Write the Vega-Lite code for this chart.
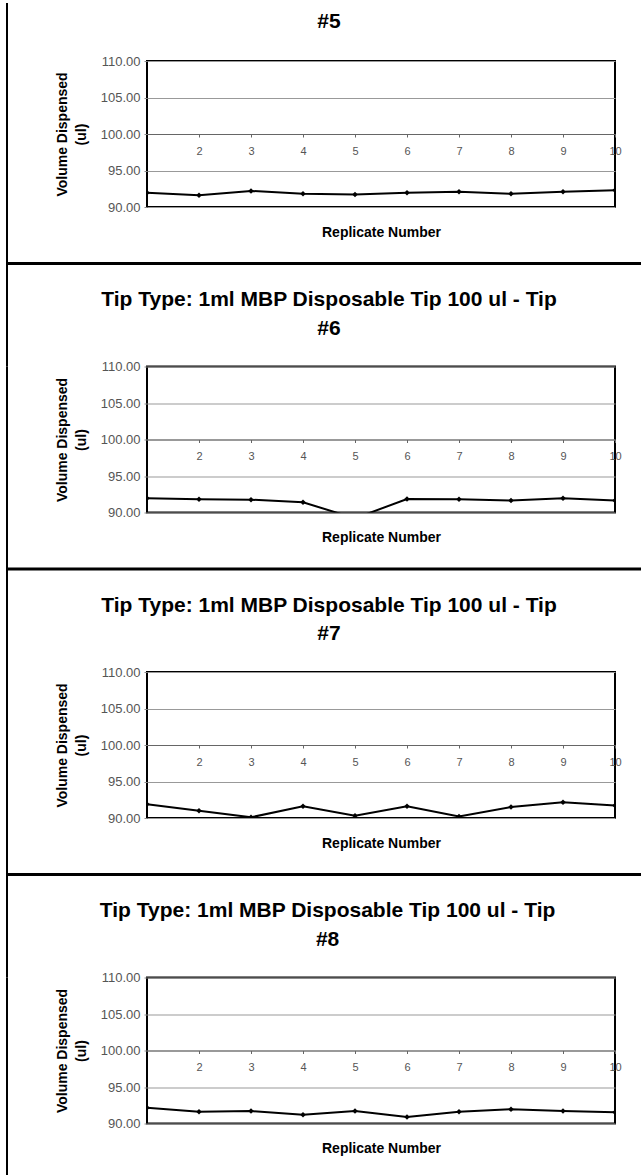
{
  "$schema": "https://vega.github.io/schema/vega-lite/v6.json",
  "background": "white",
  "padding": {"left": 4, "top": 0, "right": 0, "bottom": 0},
  "bounds": "flush",
  "spacing": 159.5,
  "datasets": {
    "tips": [
      {"tip": 5, "rep": 1, "vol": 91.95}, {"tip": 5, "rep": 2, "vol": 91.6}, {"tip": 5, "rep": 3, "vol": 92.2}, {"tip": 5, "rep": 4, "vol": 91.8}, {"tip": 5, "rep": 5, "vol": 91.7},
      {"tip": 5, "rep": 6, "vol": 91.95}, {"tip": 5, "rep": 7, "vol": 92.1}, {"tip": 5, "rep": 8, "vol": 91.8}, {"tip": 5, "rep": 9, "vol": 92.1}, {"tip": 5, "rep": 10, "vol": 92.3},
      {"tip": 6, "rep": 1, "vol": 91.95}, {"tip": 6, "rep": 2, "vol": 91.8}, {"tip": 6, "rep": 3, "vol": 91.75}, {"tip": 6, "rep": 4, "vol": 91.4}, {"tip": 6, "rep": 5, "vol": 89.2},
      {"tip": 6, "rep": 6, "vol": 91.85}, {"tip": 6, "rep": 7, "vol": 91.8}, {"tip": 6, "rep": 8, "vol": 91.65}, {"tip": 6, "rep": 9, "vol": 91.95}, {"tip": 6, "rep": 10, "vol": 91.65},
      {"tip": 7, "rep": 1, "vol": 91.9}, {"tip": 7, "rep": 2, "vol": 91.0}, {"tip": 7, "rep": 3, "vol": 90.1}, {"tip": 7, "rep": 4, "vol": 91.6}, {"tip": 7, "rep": 5, "vol": 90.3},
      {"tip": 7, "rep": 6, "vol": 91.6}, {"tip": 7, "rep": 7, "vol": 90.2}, {"tip": 7, "rep": 8, "vol": 91.5}, {"tip": 7, "rep": 9, "vol": 92.15}, {"tip": 7, "rep": 10, "vol": 91.7},
      {"tip": 8, "rep": 1, "vol": 92.15}, {"tip": 8, "rep": 2, "vol": 91.6}, {"tip": 8, "rep": 3, "vol": 91.7}, {"tip": 8, "rep": 4, "vol": 91.2}, {"tip": 8, "rep": 5, "vol": 91.7},
      {"tip": 8, "rep": 6, "vol": 90.9}, {"tip": 8, "rep": 7, "vol": 91.6}, {"tip": 8, "rep": 8, "vol": 91.95}, {"tip": 8, "rep": 9, "vol": 91.7}, {"tip": 8, "rep": 10, "vol": 91.55}
    ]
  },
  "config": {
    "font": "Liberation Sans",
    "view": {"stroke": "black", "strokeWidth": 2},
    "title": {"fontSize": 21, "fontWeight": "bold", "color": "black", "lineHeight": 28.5, "anchor": "middle", "frame": "bounds", "offset": 22},
    "axisX": {"format": "d", "tickCount": 20, "offset": -73, "domain": true, "domainColor": "#666", "domainWidth": 1, "ticks": true, "tickSize": 3, "tickColor": "#666", "labelFontSize": 11, "labelColor": "#555", "labelPadding": 8, "labelFlush": false, "grid": false, "titleFontSize": 14, "titleFontWeight": "bold", "titleColor": "black", "titlePadding": 69},
    "axisY": {"format": ".2f", "tickCount": 10, "grid": true, "gridColor": "#999", "gridWidth": 1, "domain": false, "ticks": true, "tickSize": 3, "tickColor": "#888", "labelFontSize": 13, "labelColor": "#555", "labelPadding": 4, "labelOverlap": false, "titleFontSize": 14, "titleFontWeight": "bold", "titleColor": "black", "titleLineHeight": 19, "titlePadding": 12}
  },
  "vconcat": [
    {
      "width": 468, "height": 146,
      "title": {"text": "#5", "offset": -30.5},
      "layer": [
        {"data": {"name": "tips"}, "transform": [{"filter": "datum.tip == 5"}],
         "mark": {"type": "line", "color": "black", "strokeWidth": 2, "clip": true},
         "encoding": {
           "x": {"field": "rep", "type": "quantitative", "scale": {"domain": [1, 10], "nice": false, "zero": false}, "axis": {"title": "Replicate Number", "values": [2, 3, 4, 5, 6, 7, 8, 9, 10]}},
           "y": {"field": "vol", "type": "quantitative", "scale": {"domain": [90, 110], "nice": false, "zero": false}, "axis": {"title": ["Volume Dispensed", "(ul)"], "values": [90, 95, 100, 105, 110]}}
         }},
        {"data": {"name": "tips"}, "transform": [{"filter": "datum.tip == 5"}],
         "mark": {"type": "point", "shape": "diamond", "size": 30, "filled": true, "color": "black", "opacity": 1, "clip": true},
         "encoding": {"x": {"field": "rep", "type": "quantitative"}, "y": {"field": "vol", "type": "quantitative"}}},
        {"data": {"values": [{}]},
         "mark": {"type": "rule", "color": "black", "strokeWidth": 2, "clip": false},
         "encoding": {"x": {"datum": -1.6923, "type": "quantitative"}, "y": {"datum": 117.95, "type": "quantitative"}, "y2": {"datum": 68.15}}},
        {"data": {"values": [{}]},
         "mark": {"type": "rule", "color": "black", "strokeWidth": 3, "clip": false},
         "encoding": {"x": {"datum": -1.6923, "type": "quantitative"}, "x2": {"datum": 10.6923}, "y": {"datum": 82.26, "type": "quantitative"}}}
      ]
    },
    {
      "width": 468, "height": 146,
      "title": {"text": ["Tip Type: 1ml MBP Disposable Tip 100 ul - Tip", "#6"]},
      "layer": [
        {"data": {"name": "tips"}, "transform": [{"filter": "datum.tip == 6"}],
         "mark": {"type": "line", "color": "black", "strokeWidth": 2, "clip": true},
         "encoding": {
           "x": {"field": "rep", "type": "quantitative", "scale": {"domain": [1, 10], "nice": false, "zero": false}, "axis": {"title": "Replicate Number", "values": [2, 3, 4, 5, 6, 7, 8, 9, 10]}},
           "y": {"field": "vol", "type": "quantitative", "scale": {"domain": [90, 110], "nice": false, "zero": false}, "axis": {"title": ["Volume Dispensed", "(ul)"], "values": [90, 95, 100, 105, 110]}}
         }},
        {"data": {"name": "tips"}, "transform": [{"filter": "datum.tip == 6"}],
         "mark": {"type": "point", "shape": "diamond", "size": 30, "filled": true, "color": "black", "opacity": 1, "clip": true},
         "encoding": {"x": {"field": "rep", "type": "quantitative"}, "y": {"field": "vol", "type": "quantitative"}}},
        {"data": {"values": [{}]},
         "mark": {"type": "rule", "color": "black", "strokeWidth": 2, "clip": false},
         "encoding": {"x": {"datum": -1.6923, "type": "quantitative"}, "y": {"datum": 110, "type": "quantitative"}, "y2": {"datum": 68.15}}},
        {"data": {"values": [{}]},
         "mark": {"type": "rule", "color": "black", "strokeWidth": 3, "clip": false},
         "encoding": {"x": {"datum": -1.6923, "type": "quantitative"}, "x2": {"datum": 10.6923}, "y": {"datum": 82.26, "type": "quantitative"}}}
      ]
    },
    {
      "width": 468, "height": 146,
      "title": {"text": ["Tip Type: 1ml MBP Disposable Tip 100 ul - Tip", "#7"]},
      "layer": [
        {"data": {"name": "tips"}, "transform": [{"filter": "datum.tip == 7"}],
         "mark": {"type": "line", "color": "black", "strokeWidth": 2, "clip": true},
         "encoding": {
           "x": {"field": "rep", "type": "quantitative", "scale": {"domain": [1, 10], "nice": false, "zero": false}, "axis": {"title": "Replicate Number", "values": [2, 3, 4, 5, 6, 7, 8, 9, 10]}},
           "y": {"field": "vol", "type": "quantitative", "scale": {"domain": [90, 110], "nice": false, "zero": false}, "axis": {"title": ["Volume Dispensed", "(ul)"], "values": [90, 95, 100, 105, 110]}}
         }},
        {"data": {"name": "tips"}, "transform": [{"filter": "datum.tip == 7"}],
         "mark": {"type": "point", "shape": "diamond", "size": 30, "filled": true, "color": "black", "opacity": 1, "clip": true},
         "encoding": {"x": {"field": "rep", "type": "quantitative"}, "y": {"field": "vol", "type": "quantitative"}}},
        {"data": {"values": [{}]},
         "mark": {"type": "rule", "color": "black", "strokeWidth": 2, "clip": false},
         "encoding": {"x": {"datum": -1.6923, "type": "quantitative"}, "y": {"datum": 110, "type": "quantitative"}, "y2": {"datum": 68.15}}},
        {"data": {"values": [{}]},
         "mark": {"type": "rule", "color": "black", "strokeWidth": 3, "clip": false},
         "encoding": {"x": {"datum": -1.6923, "type": "quantitative"}, "x2": {"datum": 10.6923}, "y": {"datum": 82.26, "type": "quantitative"}}}
      ]
    },
    {
      "width": 468, "height": 146,
      "title": {"text": ["Tip Type: 1ml MBP Disposable Tip 100 ul - Tip", "#8"], "dx": 14},
      "layer": [
        {"data": {"name": "tips"}, "transform": [{"filter": "datum.tip == 8"}],
         "mark": {"type": "line", "color": "black", "strokeWidth": 2, "clip": true},
         "encoding": {
           "x": {"field": "rep", "type": "quantitative", "scale": {"domain": [1, 10], "nice": false, "zero": false}, "axis": {"title": "Replicate Number", "values": [2, 3, 4, 5, 6, 7, 8, 9, 10]}},
           "y": {"field": "vol", "type": "quantitative", "scale": {"domain": [90, 110], "nice": false, "zero": false}, "axis": {"title": ["Volume Dispensed", "(ul)"], "values": [90, 95, 100, 105, 110]}}
         }},
        {"data": {"name": "tips"}, "transform": [{"filter": "datum.tip == 8"}],
         "mark": {"type": "point", "shape": "diamond", "size": 30, "filled": true, "color": "black", "opacity": 1, "clip": true},
         "encoding": {"x": {"field": "rep", "type": "quantitative"}, "y": {"field": "vol", "type": "quantitative"}}},
        {"data": {"values": [{}]},
         "mark": {"type": "rule", "color": "black", "strokeWidth": 2, "clip": false},
         "encoding": {"x": {"datum": -1.6923, "type": "quantitative"}, "y": {"datum": 110, "type": "quantitative"}, "y2": {"datum": 81.0}}}
      ]
    }
  ]
}
